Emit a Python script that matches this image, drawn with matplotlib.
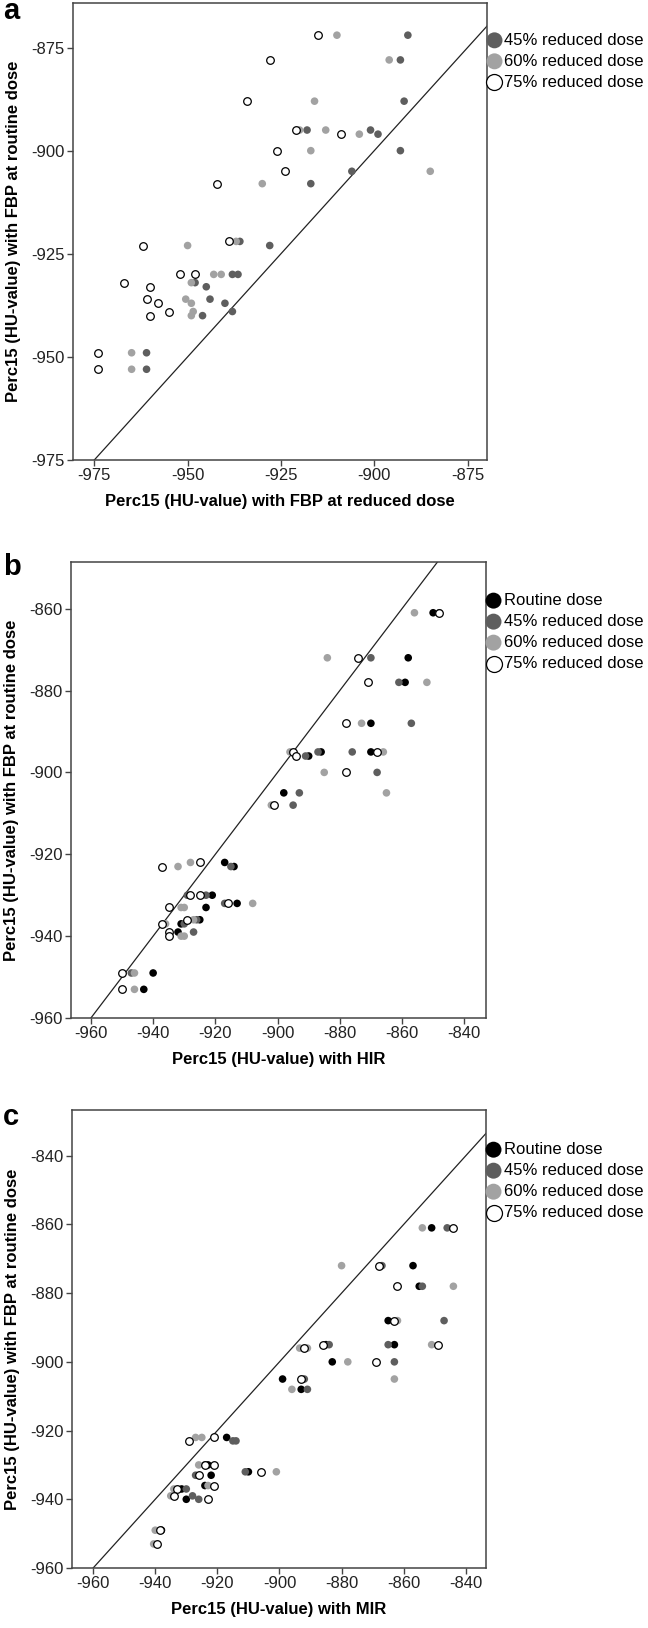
import numpy as np
import matplotlib
matplotlib.use('Agg')
import matplotlib.pyplot as plt

plt.rcParams['font.family'] = ['Liberation Sans', 'DejaVu Sans']

# colores de los grupos
c_routine = '#000000'
c_45 = '#5e5e5e'
c_60 = '#a2a2a2'

# ---- panel a: FBP dosis reducida vs FBP dosis rutina
a45_x = [-891, -893, -892, -918, -901, -899, -893, -906, -917, -936, -928, -938, -936.5,
         -948, -945, -944, -940, -938, -946, -961, -961]
a45_y = [-872, -878, -888, -895, -895, -896, -900, -905, -908, -922, -923, -930, -930,
         -932, -933, -936, -937, -939, -940, -949, -953]
a60_x = [-910, -896, -916, -920, -913, -904, -917, -885, -930, -937, -950, -943, -941,
         -949, -950.5, -949, -948.5, -949, -965, -965]
a60_y = [-872, -878, -888, -895, -895, -896, -900, -905, -908, -922, -923, -930, -930,
         -932, -936, -937, -939, -940, -949, -953]
a75_x = [-915, -928, -934, -921, -909, -926, -924, -942, -939, -962, -952, -948, -967,
         -960, -961, -958, -955, -960, -974, -974]
a75_y = [-872, -878, -888, -895, -896, -900, -905, -908, -922, -923, -930, -930, -932,
         -933, -936, -937, -939, -940, -949, -953]

# ---- panel b: HIR
bR_x = [-850, -858, -859, -870, -886, -870, -890, -898, -917, -914, -921, -913, -923,
        -925, -931, -932, -940, -943]
bR_y = [-861, -872, -878, -888, -895, -895, -896, -905, -922, -923, -930, -932, -933,
        -936, -937, -939, -949, -953]
b45_x = [-848, -870, -861, -857, -887, -876, -891, -868, -893, -895, -915, -929, -923,
         -917, -926, -930, -927, -947]
b45_y = [-861, -872, -878, -888, -895, -895, -896, -900, -905, -908, -923, -930, -930,
         -932, -936, -937, -939, -949]
b60_x = [-856, -884, -852, -873, -896, -866, -885, -865, -902, -928, -932, -908, -931,
         -930, -927, -936, -931, -930, -946, -946]
b60_y = [-861, -872, -878, -888, -895, -895, -900, -905, -908, -922, -923, -932, -933,
         -933, -936, -937, -940, -940, -949, -953]
b75_x = [-848, -874, -871, -878, -895, -868, -894, -878, -901, -925, -937, -928, -925,
         -916, -935, -929, -937, -935, -935, -950, -950]
b75_y = [-861, -872, -878, -888, -895, -895, -896, -900, -908, -922, -923, -930, -930,
         -932, -933, -936, -937, -939, -940, -949, -953]

# ---- panel c: MIR
cR_x = [-851, -857, -855, -865, -885, -863, -883, -899, -893, -917, -923, -910, -922,
        -924, -931.5, -930, -938]
cR_y = [-861, -872, -878, -888, -895, -895, -900, -905, -908, -922, -930, -932, -933,
        -936, -937, -940, -949]
c45_x = [-846, -867, -854, -847, -884, -865, -863, -892, -891, -915, -914, -924, -911,
         -927, -930, -928, -926]
c45_y = [-861, -872, -878, -888, -895, -895, -900, -905, -908, -923, -923, -930, -932,
         -933, -937, -939, -940]
c60_x = [-854, -880, -844, -862, -851, -893.5, -891, -878, -863, -896, -927, -925, -926,
         -901, -923, -934, -935, -940, -940.5]
c60_y = [-861, -872, -878, -888, -895, -896, -896, -900, -905, -908, -922, -922, -930,
         -932, -936, -937, -939, -949, -953]
c75_x = [-844, -868, -862, -863, -886, -849, -892, -869, -893, -921, -929, -924, -921,
         -906, -926, -921, -933, -934, -923, -938.5, -939.5]
c75_y = [-861, -872, -878, -888, -895, -895, -896, -900, -905, -922, -923, -930, -930,
         -932, -933, -936, -937, -939, -940, -949, -953]

lab_R = 'Routine dose'
lab_45 = '45% reduced dose'
lab_60 = '60% reduced dose'
lab_75 = '75% reduced dose'

W, H = 648, 1628
fig = plt.figure(figsize=(W / 100, H / 100), dpi=100)


def px_axes(left, top, right, bottom):
    return fig.add_axes([left / W, 1 - bottom / H, (right - left) / W, (bottom - top) / H])


def estilo(ax, xt, yt, xlim, ylim, xlabel, ylabel):
    ax.set_xlim(xlim)
    ax.set_ylim(ylim)
    ax.set_xticks(xt)
    ax.set_yticks(yt)
    ax.set_xticklabels([str(v) for v in xt])
    ax.set_yticklabels([str(v) for v in yt])
    ax.tick_params(direction='out', length=4, width=1, color='#444444',
                   labelsize=12, labelcolor='#222222', pad=2,
                   top=False, right=False)
    for s in ax.spines.values():
        s.set_color('#444444')
        s.set_linewidth(1.1)
    ax.set_xlabel(xlabel, fontsize=12, fontweight='bold', labelpad=8)
    ax.set_ylabel(ylabel, fontsize=12, fontweight='bold', labelpad=7)
    ax.axline((-900, -900), slope=1, color='#222222', lw=0.9, zorder=1)


def puntos(ax, x, y, color, label, hollow=False):
    if hollow:
        ax.scatter(x, y, s=30, facecolors='white', edgecolors='black',
                   linewidths=0.9, label=label, zorder=3)
    else:
        ax.scatter(x, y, s=30, c=color, edgecolors='none', label=label, zorder=2)


def leyenda(ax, y0):
    ax.legend(loc='upper left', bbox_to_anchor=(1.0, y0), frameon=False,
              borderpad=0, borderaxespad=0, handlelength=0.9, handletextpad=0.15,
              labelspacing=0.36, markerscale=2.1, fontsize=12)


ylab = 'Perc15 (HU-value) with FBP at routine dose'

# a
ax1 = px_axes(73, 3, 487, 460)
puntos(ax1, a45_x, a45_y, c_45, lab_45)
puntos(ax1, a60_x, a60_y, c_60, lab_60)
puntos(ax1, a75_x, a75_y, None, lab_75, hollow=True)
t_a = [-975, -950, -925, -900, -875]
estilo(ax1, t_a, t_a, (-980.7, -869.8), (-975, -864.2),
       'Perc15 (HU-value) with FBP at reduced dose', ylab)
leyenda(ax1, 0.935)

# b
ax2 = px_axes(71, 562, 486, 1018)
puntos(ax2, bR_x, bR_y, c_routine, lab_R)
puntos(ax2, b45_x, b45_y, c_45, lab_45)
puntos(ax2, b60_x, b60_y, c_60, lab_60)
puntos(ax2, b75_x, b75_y, None, lab_75, hollow=True)
estilo(ax2, list(range(-960, -839, 20)), list(range(-960, -859, 20)),
       (-966.4, -833.0), (-960, -848.6), 'Perc15 (HU-value) with HIR', ylab)
leyenda(ax2, 0.932)

# c
ax3 = px_axes(72, 1110, 486, 1568)
puntos(ax3, cR_x, cR_y, c_routine, lab_R)
puntos(ax3, c45_x, c45_y, c_45, lab_45)
puntos(ax3, c60_x, c60_y, c_60, lab_60)
puntos(ax3, c75_x, c75_y, None, lab_75, hollow=True)
estilo(ax3, list(range(-960, -839, 20)), list(range(-960, -839, 20)),
       (-966.8, -833.5), (-960, -826.7), 'Perc15 (HU-value) with MIR', ylab)
leyenda(ax3, 0.93)

# letras de panel
for letra, base in [('a', 19), ('b', 575), ('c', 1125)]:
    fig.text(3 / W, 1 - base / H, letra, fontsize=21, fontweight='bold', va='baseline')

fig.savefig('out.png', dpi=100)
